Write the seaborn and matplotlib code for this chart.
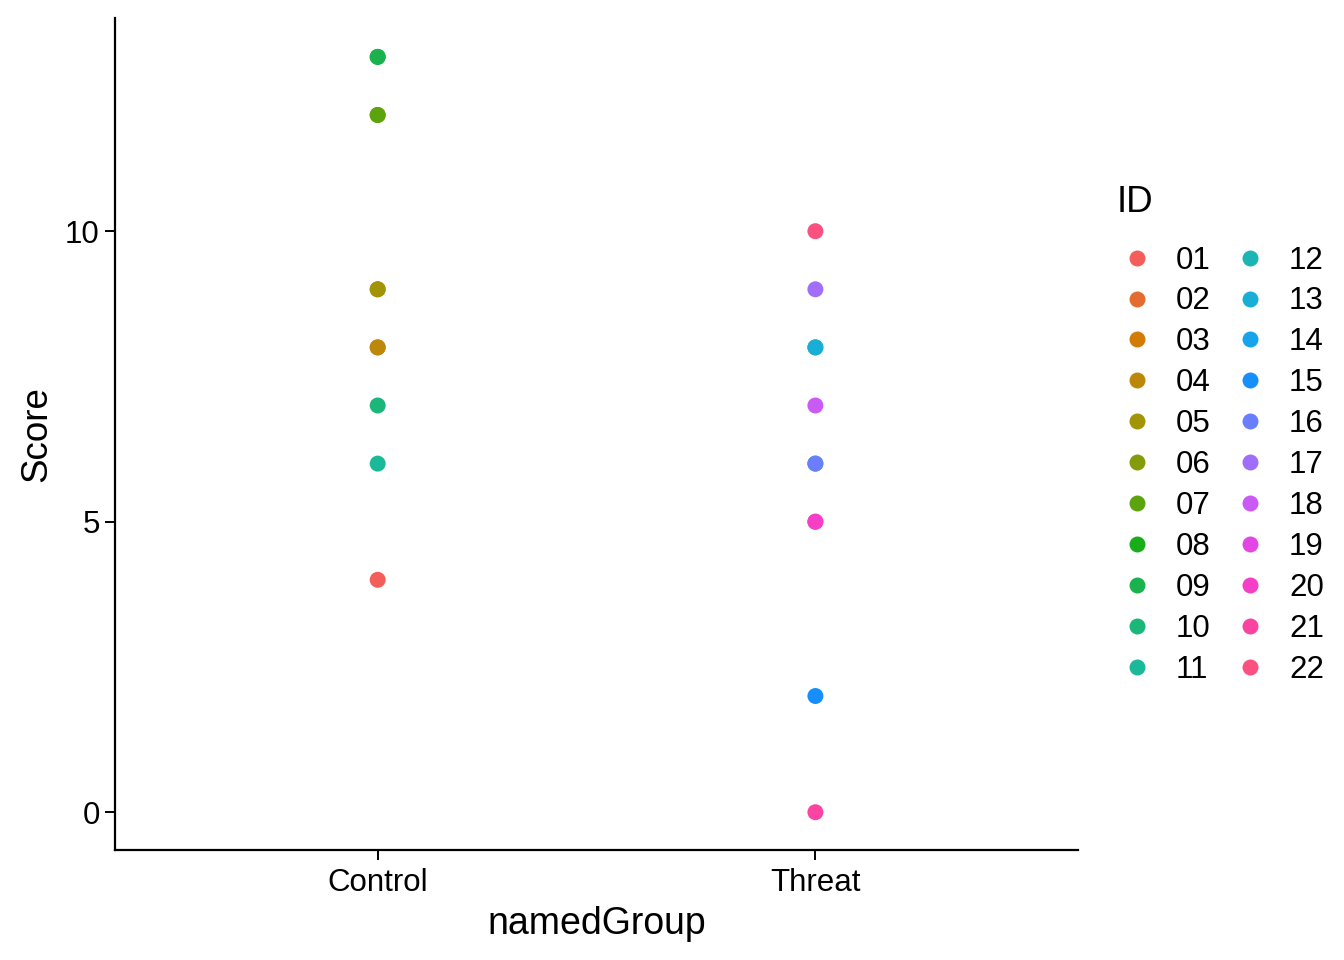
import pandas as pd
import matplotlib
matplotlib.use("Agg")
import matplotlib.pyplot as plt
import seaborn as sns

# data (hidden IDs sit under later-drawn points)
ids = ["01", "02", "03", "04", "05", "06", "07", "08", "09", "10", "11",
       "12", "13", "14", "15", "16", "17", "18", "19", "20", "21", "22"]
groups = ["Control"] * 11 + ["Threat"] * 11
scores = [4, 8, 9, 8, 9, 12, 12, 13, 13, 7, 6,
          8, 8, 6, 2, 6, 9, 7, 5, 5, 0, 10]

df = pd.DataFrame({"ID": ids, "namedGroup": groups, "Score": scores})

# hue colours as they appear in the reference (ggplot default hue scale)
colors = ["#F35E5A", "#E46C30", "#D27B05", "#BC880A", "#A29405", "#849C09",
          "#5BA40E", "#19AE19", "#19B24F", "#1AB67A", "#1AB99A", "#1BB5B5",
          "#19AED6", "#18A4EC", "#168FFC", "#6A7FFF", "#A06EF9", "#C95AF4",
          "#E446E4", "#F53FC7", "#FA44A2", "#FA5180"]

sns.set_style("ticks")
plt.rcParams["font.family"] = ["Liberation Sans", "DejaVu Sans"]
plt.rcParams["text.color"] = "black"
plt.rcParams["axes.labelcolor"] = "black"

fig = plt.figure(figsize=(13.44, 9.6), dpi=100)
ax = fig.add_axes([0.0856, 0.1146, 0.7165, 0.8667])

sns.stripplot(data=df, x="namedGroup", y="Score", hue="ID", hue_order=ids,
              palette=colors, jitter=False, size=11.5, linewidth=0, ax=ax)

ax.set_xlim(-0.6, 1.6)
ax.set_ylim(-0.65, 13.67)
ax.set_yticks([0, 5, 10])
ax.set_xlabel("namedGroup", fontsize=27, labelpad=6)
ax.set_ylabel("Score", fontsize=26.5, labelpad=8)
ax.tick_params(axis="both", labelsize=22.5, length=7, width=1.4, color="black",
               labelcolor="black", pad=4)
ax.tick_params(axis="x", pad=6)
for side in ["top", "right"]:
    ax.spines[side].set_visible(False)
for side in ["left", "bottom"]:
    ax.spines[side].set_linewidth(1.6)
    ax.spines[side].set_color("black")

# legend: title placed as its own text so it sits left of the keys like ggplot
handles, labels = ax.get_legend_handles_labels()
ax.legend(handles, labels, ncol=2, loc="upper left",
          bbox_to_anchor=(0.825, 0.7605), bbox_transform=fig.transFigure,
          frameon=False, fontsize=22.5,
          markerscale=1.0, handlelength=0.8, handletextpad=0.85,
          labelspacing=0.35, columnspacing=0.85, borderpad=0)
fig.text(1117 / 1344, 1 - 202 / 960, "ID", fontsize=26.5, va="center", ha="left")

fig.savefig("out.png", dpi=100)
